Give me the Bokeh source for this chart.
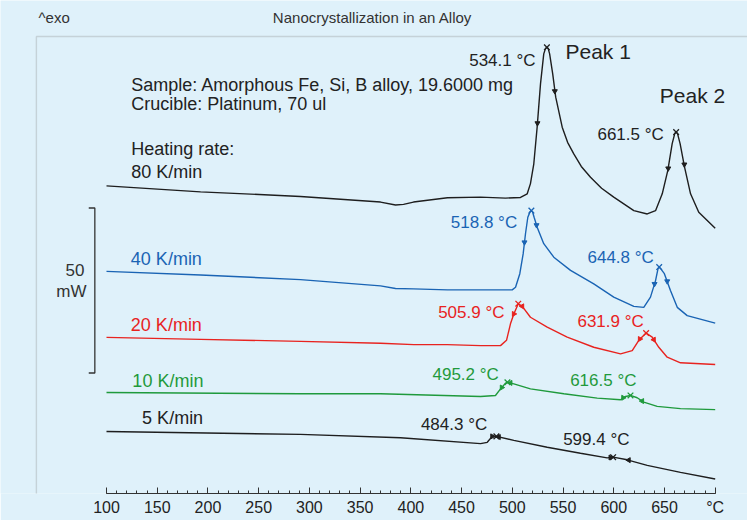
from bokeh.plotting import figure
from bokeh.models import Range1d, FixedTicker, Label, BoxAnnotation
from bokeh.embed import file_html
from bokeh.resources import INLINE

# ---------------- data (temperature in °C, heat flow in mW incl. curve offsets) ----------------
temp_80 = [100, 192.7, 291.2, 370.1, 384.9, 392.8, 402.6, 436.1, 468.7, 493.3, 508.1, 514.7, 517.9,
           521.2, 524.5, 527.8, 531.0, 532.7, 534.1, 535.4, 536.8, 539.8, 542.8, 549.2, 554.5, 560.6,
           568.0, 577.1, 588.0, 600.0, 619.8, 633.0, 641.2, 647.8, 653.3, 657.6, 660.2, 661.5, 662.8,
           665.4, 669.8, 675.7, 683.8, 700.0]
hf_80 = [92.3, 90.5, 89.1, 87.4, 86.5, 86.7, 87.4, 88.7, 88.9, 88.6, 88.8, 89.9, 93.0,
         99.0, 110.1, 123.2, 132.3, 133.9, 134.3, 133.9, 132.3, 126.3, 119.2, 110.1, 105.5, 102.0,
         98.2, 94.9, 91.6, 88.9, 84.8, 83.8, 84.8, 89.9, 97.0, 105.1, 108.2, 108.6, 108.2,
         105.1, 98.0, 89.9, 84.3, 79.5]

temp_40 = [100, 192.7, 291.2, 370.1, 384.9, 402.6, 436.1, 468.7, 499.9, 503.2, 507.4, 510.7, 513.0,
           515.3, 517.6, 518.8, 520.0, 521.5, 524.5, 531.0, 540.9, 557.4, 580.3, 600.0, 619.8, 629.6,
           636.2, 641.2, 643.7, 644.8, 646.0, 649.9, 655.9, 662.6, 672.4, 700.0]
hf_40 = [66.4, 65.3, 63.9, 62.0, 61.2, 61.1, 60.8, 60.8, 60.8, 61.6, 65.7, 71.7, 77.8,
         82.8, 84.5, 84.8, 84.4, 82.8, 79.8, 74.8, 70.7, 66.7, 62.6, 58.6, 55.8, 55.5,
         58.6, 63.6, 67.3, 67.7, 67.3, 65.7, 60.6, 55.5, 53.0, 50.7]

temp_20 = [100, 192.7, 291.2, 370.1, 402.9, 435.8, 468.7, 488.4, 494.3, 498.2, 501.5, 505.9, 509.8,
           517.9, 534.4, 554.1, 580.3, 606.7, 618.2, 624.7, 631.9, 637.9, 644.4, 652.7, 665.8, 700.0]
hf_20 = [46.4, 45.8, 45.2, 44.6, 44.2, 44.2, 43.9, 43.9, 45.5, 50.5, 53.5, 56.6, 55.8,
         52.5, 49.5, 46.5, 43.4, 41.4, 42.4, 45.5, 47.7, 46.5, 43.4, 40.4, 38.7, 38.2]

temp_10 = [100, 291.2, 370.1, 468.7, 483.4, 488.4, 493.3, 495.2, 501.5, 517.9, 550.8, 583.7, 606.7,
           611.6, 616.5, 623.1, 629.6, 642.8, 665.8, 700.0]
hf_10 = [29.7, 29.3, 29.3, 28.5, 28.8, 30.8, 32.5, 32.8, 32.3, 30.8, 29.3, 28.0, 27.5,
         28.5, 28.8, 28.1, 26.8, 25.5, 24.8, 24.5]

temp_5 = [100, 291.2, 389.8, 468.7, 475.3, 480.2, 484.3, 501.5, 534.4, 567.2, 593.5, 599.4, 613.3,
          633.0, 665.8, 700.0]
hf_5 = [17.9, 17.0, 16.0, 14.2, 14.6, 16.4, 16.4, 15.2, 13.1, 11.3, 9.9, 10.1, 9.3,
        7.6, 5.5, 3.5]

# peak temperatures / heights
peak_T = {"80": [534.1, 661.5], "40": [518.8, 644.8], "20": [505.9, 631.9], "10": [495.2, 616.5], "5": [484.3, 599.4]}
peak_hf = {"80": [134.3, 108.6], "40": [84.8, 67.7], "20": [56.6, 47.7], "10": [32.8, 28.8], "5": [16.4, 10.1]}

# integration limits
limit_T = {"80": [524.8, 541.9, 653.7, 669.6], "40": [512.0, 523.9, 640.2, 652.7],
           "20": [501.5, 509.8, 625.7, 639.5], "10": [489.6, 498.2, 609.3, 628.0],
           "5": [480.2, 486.7, 596.8, 614.8]}
limit_hf = {"80": [111.3, 121.0, 97.6, 98.8], "40": [75.2, 80.4, 62.6, 63.4],
            "20": [53.5, 55.8, 45.9, 45.7], "10": [31.2, 32.6, 28.1, 27.1],
            "5": [16.4, 16.2, 10.0, 9.2]}

x_ticks = [100, 150, 200, 250, 300, 350, 400, 450, 500, 550, 600, 650, 700]
x_minor = list(range(100, 701, 10))
tick_labels = {700: "°C"}

scale_mW = 50
scale_bottom = 35.6
scale_x = 88.5

# ---------------- styling ----------------
BG = "#dff1fa"
FONT = "Liberation Sans"
DARK = "#222222"
COLORS = {"80": "#1e1e1e", "40": "#1a64b4", "20": "#e8231f", "10": "#1f9a3c", "5": "#1e1e1e"}

p = figure(width=747, height=520, output_backend="svg", toolbar_location=None,
           x_range=Range1d(-4.49, 731.84), y_range=Range1d(-0.91, 148.48),
           min_border_left=0, min_border_right=0, min_border_top=0, min_border_bottom=27,
           background_fill_color=BG, border_fill_color=BG, outline_line_color=None,
           y_axis_location=None)
p.grid.visible = False

ax = p.xaxis[0]
ax.ticker = FixedTicker(ticks=x_ticks, minor_ticks=x_minor)
ax.major_label_overrides = tick_labels
ax.bounds = (100, 700)
ax.axis_line_color = "#333333"
ax.axis_line_width = 1.2
ax.major_tick_line_color = "#333333"
ax.minor_tick_line_color = "#333333"
ax.major_tick_in = 6
ax.major_tick_out = 0
ax.minor_tick_in = 3
ax.minor_tick_out = 0
ax.major_label_standoff = 5
ax.major_label_text_font = FONT
ax.major_label_text_font_size = "16px"
ax.major_label_text_color = DARK

# outer frame (left and top borders)
p.add_layout(BoxAnnotation(left=30.9, right=5000, top=137.58, bottom=-500,
                           fill_alpha=0, line_color="#8c8c8c", line_width=1.4))

curves = {"80": (temp_80, hf_80), "40": (temp_40, hf_40), "20": (temp_20, hf_20),
          "10": (temp_10, hf_10), "5": (temp_5, hf_5)}
for key, (t, h) in curves.items():
    c = COLORS[key]
    p.line(t, h, line_color=c, line_width=1.4)
    p.scatter(peak_T[key], peak_hf[key], marker="x", size=8, line_color=c, line_width=1.3)
    if key in ("80", "40"):
        p.scatter(limit_T[key], limit_hf[key], marker="inverted_triangle", size=5,
                  fill_color=c, line_color=c)
    else:
        p.scatter(limit_T[key], limit_hf[key], marker="triangle", size=5,
                  angle=[-1.5708, 1.5708, -1.5708, 1.5708], fill_color=c, line_color=c)

# 50 mW scale bracket
p.line([scale_x - 6, scale_x, scale_x, scale_x - 6],
       [scale_bottom + scale_mW, scale_bottom + scale_mW, scale_bottom, scale_bottom],
       line_color="#333333", line_width=1.3)


def lab(text, x, y, color=DARK, size="17px", align="left"):
    p.add_layout(Label(x=x, y=y, text=text, text_color=color, text_font=FONT,
                       text_font_size=size, text_align=align, text_baseline="middle"))


lab("^exo", 33.0, 143.3, color="#333333", size="15px")
lab("Nanocrystallization in an Alloy", 362.2, 143.3, color="#333333", size="15px", align="center")

lab("Sample: Amorphous Fe, Si, B alloy, 19.6000 mg", 124.3, 123.0, size="18px")
lab("Crucible: Platinum, 70 ul", 124.3, 117.0, size="18px")
lab("Heating rate:", 124.3, 103.5, size="18px")
lab("80 K/min", 124.3, 96.4, size="18px")
lab("40 K/min", 124.0, 70.2, color=COLORS["40"], size="18px")
lab("20 K/min", 124.0, 50.3, color=COLORS["20"], size="18px")
lab("10 K/min", 125.5, 33.3, color=COLORS["10"], size="18px")
lab("5 K/min", 135.1, 22.0, size="18px")

lab("Peak 1", 552.4, 133.1, size="21px")
lab("Peak 2", 645.4, 119.7, size="21px")

lab("534.1 °C", 522.9, 130.3, align="right")
lab("661.5 °C", 649.3, 108.0, align="right")
lab("518.8 °C", 504.8, 81.2, color=COLORS["40"], align="right")
lab("644.8 °C", 639.5, 70.6, color=COLORS["40"], align="right")
lab("505.9 °C", 492.3, 53.9, color=COLORS["20"], align="right")
lab("631.9 °C", 629.6, 51.2, color=COLORS["20"], align="right")
lab("495.2 °C", 486.7, 35.2, color=COLORS["10"], align="right")
lab("616.5 °C", 622.4, 33.2, color=COLORS["10"], align="right")
lab("484.3 °C", 475.3, 20.1, align="right")
lab("599.4 °C", 615.5, 15.5, align="right")

lab("50", 78.3, 66.9, color="#333333", align="right")
lab("mW", 80.3, 60.4, color="#333333", align="right")

html = file_html(p, INLINE, title="Nanocrystallization in an Alloy")
html = html.replace("<body>", '<body style="margin:0;overflow:hidden;background-color:%s;">' % BG, 1)
open("out.html", "w").write(html)
